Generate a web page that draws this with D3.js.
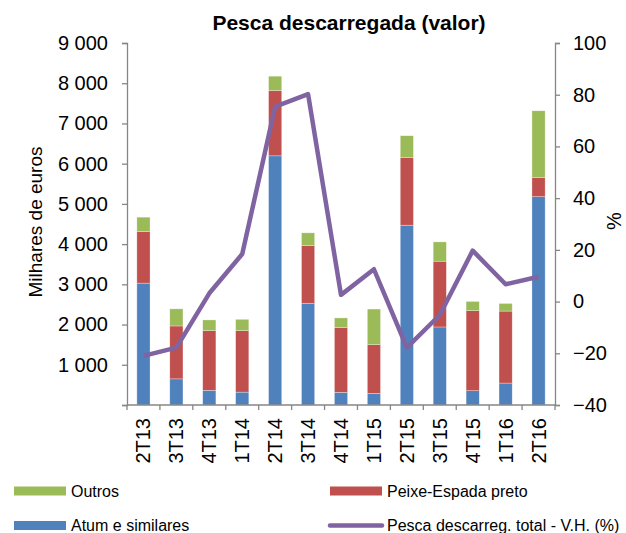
<!DOCTYPE html>
<html lang="pt">
<head>
  <meta charset="UTF-8">
  <title>Pesca descarregada (valor)</title>
  <script src="https://d3js.org/d3.v7.min.js"></script>
  <style>
    body { margin: 0; background: white; font-family: "Liberation Sans", Arial, sans-serif; }
    svg { display: block; font-family: "Liberation Sans", Arial, sans-serif; }
    .axis path, .axis line { stroke: #868686; }
    .axis text { font-family: "Liberation Sans", Arial, sans-serif; fill: #000; }
  </style>
</head>
<body>
  <svg width="626" height="533"></svg>
  <script>
    const categories = ["2T13", "3T13", "4T13", "1T14", "2T14", "3T14", "4T14", "1T15", "2T15", "3T15", "4T15", "1T16", "2T16"];
    const atum   = [3030, 650, 365, 320, 6195, 2530, 315, 290, 4470, 1940, 355, 545, 5180];
    const peixe  = [1280, 1315, 1485, 1530, 1625, 1435, 1610, 1210, 1685, 1635, 1990, 1790, 475];
    const outros = [360, 425, 265, 280, 355, 315, 240, 885, 540, 480, 230, 190, 1660];
    const variacao = [-21, -17.8, 3.2, 18.4, 75.4, 80.2, 2.6, 12.5, -17.8, -5.2, 19.7, 6.7, 9.6];

    const leftTicks = [0, 1000, 2000, 3000, 4000, 5000, 6000, 7000, 8000, 9000];
    const rightTicks = [-40, -20, 0, 20, 40, 60, 80, 100];

    const colors = { atum: "#4F81BD", peixe: "#C0504D", outros: "#9BBB59", linha: "#8064A2" };

    const svg = d3.select("svg");
    const plot = { left: 127, right: 555, top: 43, bottom: 405 };

    const x = d3.scaleBand().domain(categories).range([plot.left, plot.right]).paddingInner(0.6).paddingOuter(0.3);
    const xb = d3.scaleBand().domain(categories).range([plot.left, plot.right]);
    const y = d3.scaleLinear().domain([0, 9000]).range([plot.bottom, plot.top]);
    const y2 = d3.scaleLinear().domain([-40, 100]).range([plot.bottom, plot.top]);

    const fmt = d => d3.format(",")(d).replace(",", " ");

    // stacked bars
    const rows = categories.map((c, i) => ({ cat: c, atum: atum[i], peixe: peixe[i], outros: outros[i] }));
    const stack = d3.stack().keys(["atum", "peixe", "outros"])(rows);

    svg.append("g").selectAll("g")
      .data(stack)
      .join("g")
      .attr("fill", d => colors[d.key])
      .selectAll("rect")
      .data(d => d)
      .join("rect")
      .attr("x", d => x(d.data.cat))
      .attr("width", x.bandwidth())
      .attr("y", d => y(d[1]))
      .attr("height", d => y(d[0]) - y(d[1]))
      .attr("stroke", "rgba(255,255,255,0.5)")
      .attr("stroke-width", 0.6);

    // left axis
    svg.append("g")
      .attr("class", "axis")
      .attr("transform", `translate(${plot.left},0)`)
      .call(d3.axisLeft(y).tickValues(leftTicks).tickFormat(d => d === 0 ? "" : fmt(d)).tickSizeOuter(0).tickSize(5).tickPadding(14))
      .call(g => g.selectAll("text").style("font-size", "20px"))
      .call(g => g.selectAll("line,path").attr("stroke-width", 1.3));

    // right axis
    svg.append("g")
      .attr("class", "axis")
      .attr("transform", `translate(${plot.right},0)`)
      .call(d3.axisRight(y2).tickValues(rightTicks).tickSizeOuter(0).tickSize(5).tickPadding(13))
      .call(g => g.selectAll("text").style("font-size", "20px"))
      .call(g => g.selectAll("line,path").attr("stroke-width", 1.3));

    // x axis with ticks at band boundaries
    const xAxis = svg.append("g")
      .attr("class", "axis")
      .attr("transform", `translate(0,${plot.bottom})`);
    xAxis.append("line")
      .attr("x1", plot.left).attr("x2", plot.right)
      .attr("stroke", "#868686").attr("stroke-width", 1.3);
    xAxis.selectAll("line.tick")
      .data(categories.concat(["_end"]))
      .join("line")
      .attr("class", "tick")
      .attr("x1", (d, i) => i < categories.length ? xb(d) : plot.right)
      .attr("x2", (d, i) => i < categories.length ? xb(d) : plot.right)
      .attr("y1", 0).attr("y2", 5)
      .attr("stroke", "#868686").attr("stroke-width", 1.3);
    xAxis.selectAll("text")
      .data(categories)
      .join("text")
      .attr("transform", d => `translate(${xb(d) + xb.bandwidth() / 2 + 7},13) rotate(-90)`)
      .attr("text-anchor", "end")
      .style("font-size", "20px")
      .text(d => d);

    // line series
    const line = d3.line()
      .x((d, i) => xb(categories[i]) + xb.bandwidth() / 2)
      .y(d => y2(d));
    svg.append("path")
      .datum(variacao)
      .attr("d", line)
      .attr("fill", "none")
      .attr("stroke", colors.linha)
      .attr("stroke-width", 4.5)
      .attr("stroke-linejoin", "round");

    // titles
    svg.append("text")
      .attr("x", 349).attr("y", 30)
      .attr("text-anchor", "middle")
      .style("font-size", "21px").style("font-weight", "bold")
      .text("Pesca descarregada (valor)");

    svg.append("text")
      .attr("transform", `translate(42,222) rotate(-90)`)
      .attr("text-anchor", "middle")
      .style("font-size", "19px")
      .text("Milhares de euros");

    svg.append("text")
      .attr("transform", `translate(621,221) rotate(-90)`)
      .attr("text-anchor", "middle")
      .style("font-size", "20px")
      .text("%");

    // legend
    const legendItems = [
      { label: "Outros", color: colors.outros, type: "rect", x: 14, y: 491 },
      { label: "Peixe-Espada preto", color: colors.peixe, type: "rect", x: 330, y: 491 },
      { label: "Atum e similares", color: colors.atum, type: "rect", x: 14, y: 525.5 },
      { label: "Pesca descarreg. total - V.H. (%)", color: colors.linha, type: "line", x: 330, y: 525.5 }
    ];
    const leg = svg.append("g").selectAll("g").data(legendItems).join("g")
      .attr("transform", d => `translate(${d.x},${d.y})`);
    leg.filter(d => d.type === "rect").append("rect")
      .attr("x", 0).attr("y", -4.5).attr("width", 52).attr("height", 9)
      .attr("fill", d => d.color);
    leg.filter(d => d.type === "line").append("line")
      .attr("x1", 0).attr("x2", 52).attr("y1", 0).attr("y2", 0)
      .attr("stroke", d => d.color).attr("stroke-width", 4.5).attr("stroke-linecap", "round");
    leg.append("text")
      .attr("x", 57)
      .attr("y", 5.5)
      .style("font-size", "16px")
      .text(d => d.label);
  </script>
</body>
</html>
